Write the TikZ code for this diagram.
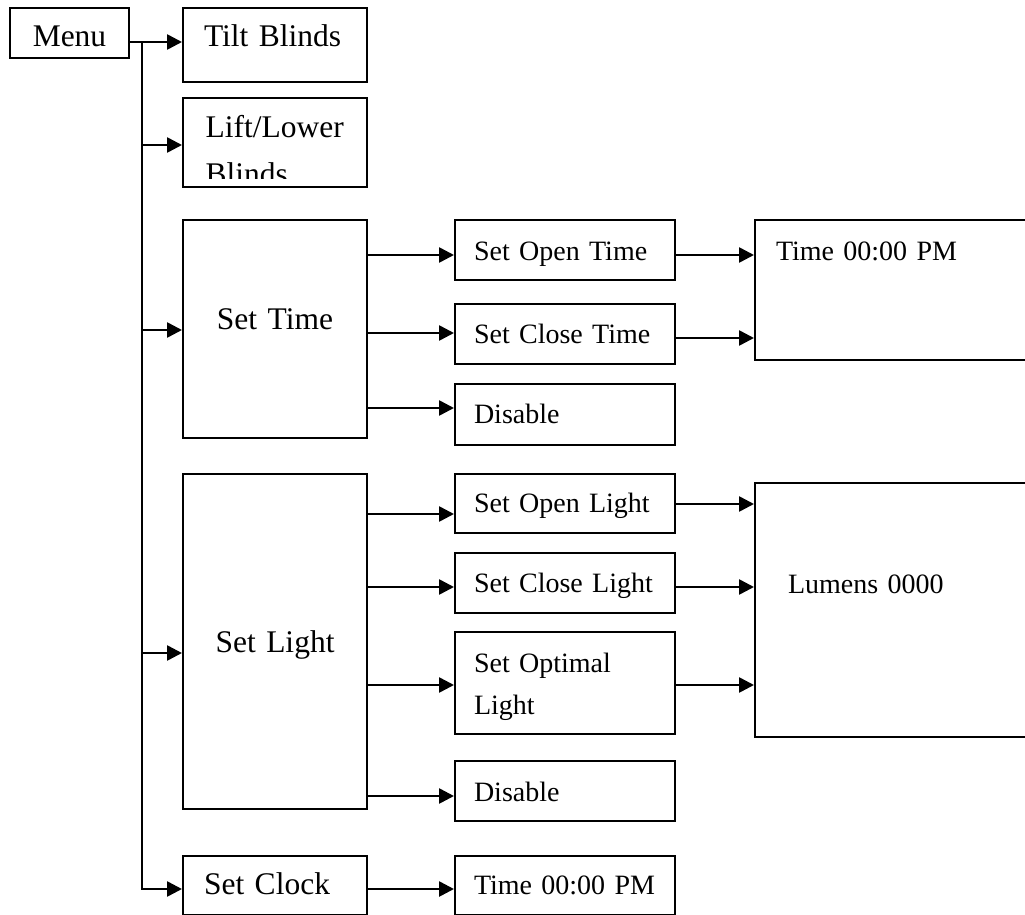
\documentclass[tikz,border=0pt]{standalone}
\usepackage{fontspec}
\setmainfont{Liberation Serif}
\usepackage{tikz}
\usetikzlibrary{arrows.meta,positioning,calc}
\newcommand{\mnbig}{\fontsize{31.5pt}{47pt}\selectfont}
\newcommand{\mnsmall}{\fontsize{28pt}{42pt}\selectfont}
\tikzset{
  mnnode/.style={
    rectangle, draw=black, line width=2pt, anchor=north west,
    inner ysep=0pt, inner xsep=21pt, text width=142pt,
    align=left, font=\mnbig
  },
  mnsub/.style={mnnode, inner xsep=19pt, text width=182pt, font=\mnsmall},
  mnval/.style={mnnode, font=\mnsmall},
  mnarrow/.style={-{Triangle[length=15pt,width=15pt]}, line width=2.6pt, draw=black},
}

\begin{document}
\begin{tikzpicture}[x=1pt, y=-1pt]
  \useasboundingbox (0,0) rectangle (1025,915);
  % main menu column
  \node (menu) [mnnode, inner xsep=4pt, text width=111pt, align=center,
    text height=39pt, text depth=11pt] at (9,7) {Menu};
  \node (tilt) [mnnode, text height=39pt, text depth=35pt] at (182,7) {Tilt Blinds};
  \node (lift) [mnnode, minimum width=184pt, minimum height=89pt] at (182,97) {};
  \begin{scope}
    \clip (lift.north west) rectangle ($(lift.south east)+(0,-10)$);
    \node (liftlbl) [anchor=base west, text width=150pt, align=left, font=\mnbig]
      at ($(lift.north west)+(20,41)$) {Lift/Lower\\Blinds};
  \end{scope}
  \node (settime) [mnnode, align=center, text height=109pt, text depth=109pt] at (182,219) {Set Time};
  \node (setlight) [mnnode, align=center, text height=178pt, text depth=157pt] at (182,473) {Set Light};
  \node (setclock) [mnnode, text height=38pt, text depth=21pt] at (182,855) {Set Clock};

  % sub menus
  \node (opentime) [mnsub, text height=40pt, text depth=20pt] at (454,219) {Set Open Time};
  \node (closetime) [mnsub, text height=39pt, text depth=21pt] at (454,303) {Set Close Time};
  \node (distime) [mnsub, text height=39pt, text depth=22pt] at (454,383) {Disable};
  \node (openlight) [mnsub, text height=38pt, text depth=21pt] at (454,473) {Set Open Light};
  \node (closelight) [mnsub, text height=39pt, text depth=21pt] at (454,552) {Set Close Light};
  \node (optlight) [mnsub, text height=40pt, text depth=62pt] at (454,631) {Set Optimal\\Light};
  \node (dislight) [mnsub, text height=40pt, text depth=20pt] at (454,760) {Disable};
  \node (clocktime) [mnsub, text height=38pt, text depth=21pt] at (454,855) {Time 00:00 PM};

  % value boxes
  \node (timeval) [mnval, text width=244pt, text height=40pt, text depth=100pt] at (754,219) {Time 00:00 PM};
  \node (lumenval) [mnval, inner xsep=33pt, text width=220pt, text height=110pt, text depth=144pt] at (754,482) {Lumens 0000};

  % trunk
  \coordinate (jtop) at (142,42);
  \coordinate (jlift) at (142,145);
  \coordinate (jtime) at (142,330);
  \coordinate (jlight) at (142,653);
  \coordinate (jbot) at (142,889);
  \draw[mnarrow] (menu.east |- jtop) -- (tilt.west |- jtop);
  \draw[mnarrow] (jtop) -- (jbot) -- (setclock.west |- jbot);
  \draw[mnarrow] (jlift) -- (lift.west |- jlift);
  \draw[mnarrow] (jtime) -- (settime.west |- jtime);
  \draw[mnarrow] (jlight) -- (setlight.west |- jlight);

  \draw[mnarrow] (settime.east |- 0,255) -- (opentime.west |- 0,255);
  \draw[mnarrow] (settime.east |- 0,333) -- (closetime.west |- 0,333);
  \draw[mnarrow] (settime.east |- 0,408) -- (distime.west |- 0,408);
  \draw[mnarrow] (setlight.east |- 0,514) -- (openlight.west |- 0,514);
  \draw[mnarrow] (setlight.east |- 0,587) -- (closelight.west |- 0,587);
  \draw[mnarrow] (setlight.east |- 0,685) -- (optlight.west |- 0,685);
  \draw[mnarrow] (setlight.east |- 0,796) -- (dislight.west |- 0,796);
  \draw[mnarrow] (setclock.east |- jbot) -- (clocktime.west |- jbot);

  \draw[mnarrow] (opentime.east |- 0,255) -- (timeval.west |- 0,255);
  \draw[mnarrow] (closetime.east |- 0,338) -- (timeval.west |- 0,338);
  \draw[mnarrow] (openlight.east |- 0,504) -- (lumenval.west |- 0,504);
  \draw[mnarrow] (closelight.east |- 0,587) -- (lumenval.west |- 0,587);
  \draw[mnarrow] (optlight.east |- 0,685) -- (lumenval.west |- 0,685);
\end{tikzpicture}
\end{document}
